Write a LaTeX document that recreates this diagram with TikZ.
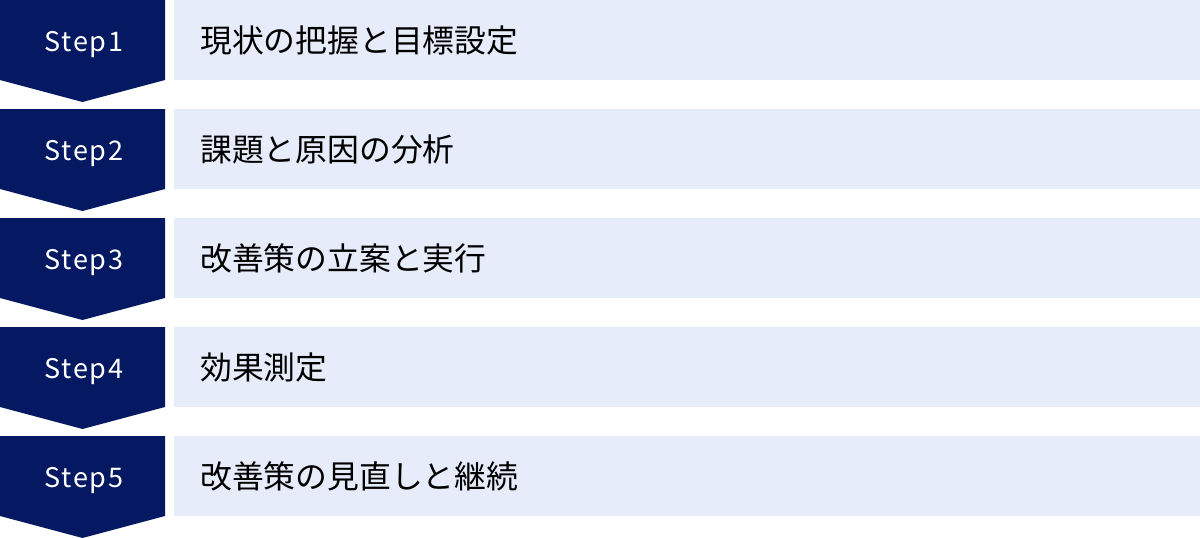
\documentclass[tikz,border=0pt]{standalone}
\usepackage{fontspec}
\usepackage{xcolor}
\setmainfont{Noto Sans CJK JP}
\newfontfamily\stepfont[LetterSpace=6]{Noto Sans CJK JP}
\definecolor{stepnavy}{HTML}{051862}
\definecolor{barblue}{HTML}{E6ECF9}

\begin{document}
\begin{tikzpicture}[x=1pt, y=-1pt,
    chevron/.style={fill=stepnavy},
    bar/.style={fill=barblue},
    steplabel/.style={anchor=base, text=white, font=\stepfont\fontsize{27}{32}\selectfont, inner sep=0pt},
    tasklabel/.style={anchor=west, text=black, font=\fontsize{31.8}{36}\selectfont, inner sep=0pt}]
  \useasboundingbox (0, 0) rectangle (1200, 538);

  % Row 1
  \fill[chevron] (0, 0) -- (165, 0) -- (165, 80) -- (82.5, 102) -- (0, 80) -- cycle;
  \fill[bar] (174, 0) rectangle (1200, 80);
  \node[steplabel] (s1) at (84, 51) {Step1};
  \node[tasklabel] (t1) at (200, 40) {現状の把握と目標設定};
  % Row 2
  \fill[chevron] (0, 109) -- (165, 109) -- (165, 189) -- (82.5, 211) -- (0, 189) -- cycle;
  \fill[bar] (174, 109) rectangle (1200, 189);
  \node[steplabel] (s2) at (84, 160) {Step2};
  \node[tasklabel] (t2) at (200, 149) {課題と原因の分析};
  % Row 3
  \fill[chevron] (0, 218) -- (165, 218) -- (165, 298) -- (82.5, 320) -- (0, 298) -- cycle;
  \fill[bar] (174, 218) rectangle (1200, 298);
  \node[steplabel] (s3) at (84, 269) {Step3};
  \node[tasklabel] (t3) at (200, 258) {改善策の立案と実行};
  % Row 4
  \fill[chevron] (0, 327) -- (165, 327) -- (165, 407) -- (82.5, 429) -- (0, 407) -- cycle;
  \fill[bar] (174, 327) rectangle (1200, 407);
  \node[steplabel] (s4) at (84, 378) {Step4};
  \node[tasklabel] (t4) at (200, 367) {効果測定};
  % Row 5
  \fill[chevron] (0, 436) -- (165, 436) -- (165, 516) -- (82.5, 538) -- (0, 516) -- cycle;
  \fill[bar] (174, 436) rectangle (1200, 516);
  \node[steplabel] (s5) at (84, 487) {Step5};
  \node[tasklabel] (t5) at (200, 476) {改善策の見直しと継続};
\end{tikzpicture}
\end{document}
